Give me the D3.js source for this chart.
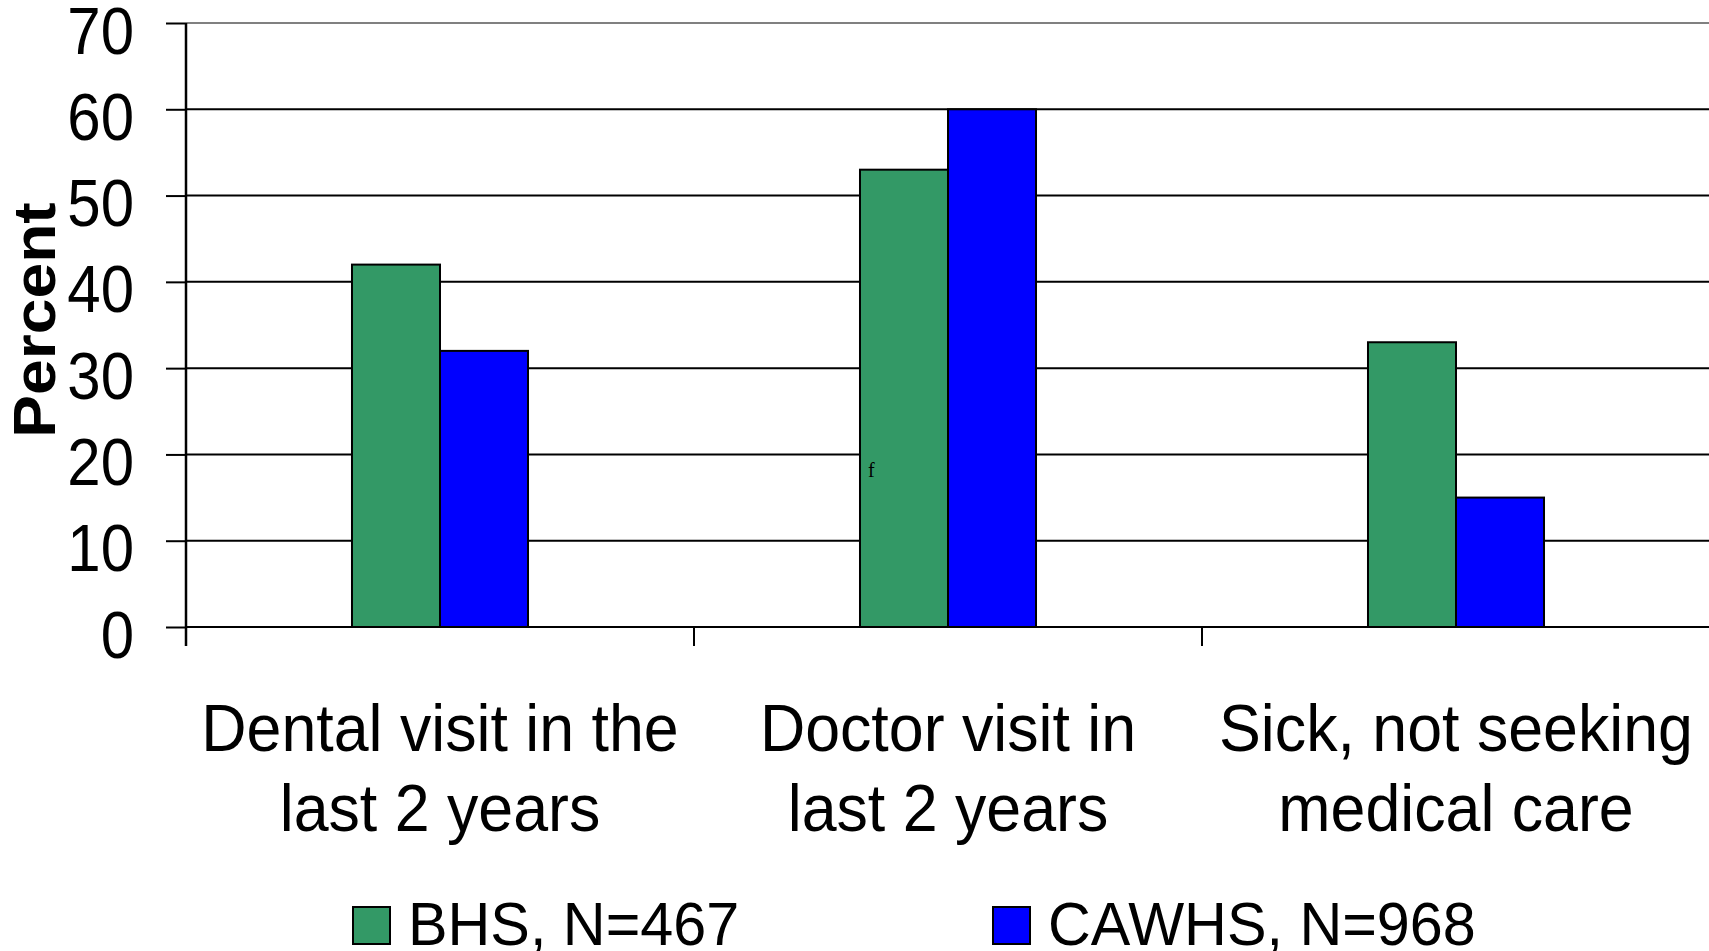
<!DOCTYPE html>
<html>
<head>
<meta charset="utf-8">
<script src="https://cdn.jsdelivr.net/npm/d3@7"></script>
<style>
  html, body { margin: 0; padding: 0; background: #fff; }
  svg { display: block; font-family: "Liberation Sans", Arial, sans-serif; }
</style>
</head>
<body>
<svg id="chart" width="1709" height="951"></svg>
<script>
// Health care use, two survey samples
const categories = ["Dental visit in the last 2 years", "Doctor visit in last 2 years", "Sick, not seeking medical care"];
const categoryLines = [["Dental visit in the", "last 2 years"], ["Doctor visit in", "last 2 years"], ["Sick, not seeking", "medical care"]];
const seriesNames = ["BHS, N=467", "CAWHS, N=968"];
const bhsValues = [42, 53, 33];
const cawhsValues = [32, 60, 15];
const seriesColors = ["#339966", "#0000ff"];
const yTicks = [0, 10, 20, 30, 40, 50, 60, 70];

(function draw() {
  const svg = d3.select("#chart");
  const W = 1709;
  const plotLeft = 186, plotTop = 23, plotBottom = 627;

  const y = d3.scaleLinear().domain([0, 70]).range([plotBottom, plotTop]);
  const x0 = d3.scaleBand().domain(categories).range([plotLeft, plotLeft + 3 * 508]).paddingInner(0).paddingOuter(0);
  const x1 = d3.scaleBand().domain(seriesNames).range([0, x0.bandwidth()]).paddingInner(0).paddingOuter(1.886);

  const rows = categories.map((c, i) => ({ cat: c, vals: [bhsValues[i], cawhsValues[i]] }));

  // horizontal gridlines
  svg.append("g").selectAll("line").data(yTicks).join("line")
    .attr("x1", plotLeft).attr("x2", W)
    .attr("y1", d => y(d)).attr("y2", d => y(d))
    .attr("stroke", d => d === 70 ? "#808080" : "#000")
    .attr("stroke-width", 2);

  // bars
  const groups = svg.append("g").selectAll("g").data(rows).join("g")
    .attr("transform", d => `translate(${x0(d.cat)},0)`);
  groups.selectAll("rect").data(d => d.vals.map((v, j) => ({ s: seriesNames[j], v, j }))).join("rect")
    .attr("x", d => x1(d.s))
    .attr("width", x1.bandwidth())
    .attr("y", d => y(d.v))
    .attr("height", d => y(0) - y(d.v))
    .attr("fill", d => seriesColors[d.j])
    .attr("stroke", "#000")
    .attr("stroke-width", 2);

  // stray marker inside the doctor-visit bar
  svg.append("text")
    .attr("x", 868).attr("y", 477)
    .attr("font-family", "'Liberation Serif', 'Times New Roman', serif")
    .attr("font-size", 20)
    .text("f");

  // y axis
  const yAxis = d3.axisLeft(y).tickValues(yTicks).tickSize(20).tickSizeOuter(0).tickPadding(52);
  const gy = svg.append("g").attr("transform", `translate(${plotLeft},0)`).call(yAxis);
  gy.select(".domain").remove();
  gy.selectAll(".tick line").attr("stroke", "#000").attr("stroke-width", 2);
  gy.selectAll(".tick text")
    .attr("font-size", 60)
    .attr("font-family", "'Liberation Sans', Arial, sans-serif")
    .attr("fill", "#000")
    .attr("dy", null)
    .attr("x", null)
    .attr("text-anchor", "end")
    .attr("transform", "translate(-52,30) scale(1,1.12)");

  svg.append("line")
    .attr("x1", plotLeft).attr("x2", plotLeft)
    .attr("y1", y(70)).attr("y2", plotBottom + 19)
    .attr("stroke", "#000").attr("stroke-width", 2.5);

  // category ticks
  svg.append("g").selectAll("line").data(categories).join("line")
    .attr("x1", d => x0(d)).attr("x2", d => x0(d))
    .attr("y1", plotBottom).attr("y2", plotBottom + 19)
    .attr("stroke", "#000").attr("stroke-width", 2);

  // category labels
  const lab = svg.append("g").selectAll("g").data(categories).join("g")
    .attr("transform", d => `translate(${x0(d) + x0.bandwidth() / 2},0)`);
  lab.each(function (d, i) {
    const g = d3.select(this);
    categoryLines[i].forEach((t, k) => {
      g.append("text")
        .attr("text-anchor", "middle")
        .attr("font-size", 62.7)
        .attr("transform", `translate(0,${751 + k * 80}) scale(1,1.07)`)
        .text(t);
    });
  });

  // y title
  svg.append("text")
    .attr("text-anchor", "middle")
    .attr("font-weight", "bold")
    .attr("font-size", 60)
    .attr("transform", "translate(55,320) rotate(-90) scale(1.07,1)")
    .text("Percent");

  // legend
  const legendX = [353, 993];
  const leg = svg.append("g").selectAll("g").data(seriesNames).join("g")
    .attr("transform", (d, i) => `translate(${legendX[i]},907)`);
  leg.append("rect")
    .attr("width", 37).attr("height", 37)
    .attr("fill", (d, i) => seriesColors[i])
    .attr("stroke", "#000").attr("stroke-width", 2);
  leg.append("text")
    .attr("font-size", 59.3)
    .attr("transform", "translate(55,38) scale(1,1.04)")
    .text(d => d);
})();
</script>
</body>
</html>
